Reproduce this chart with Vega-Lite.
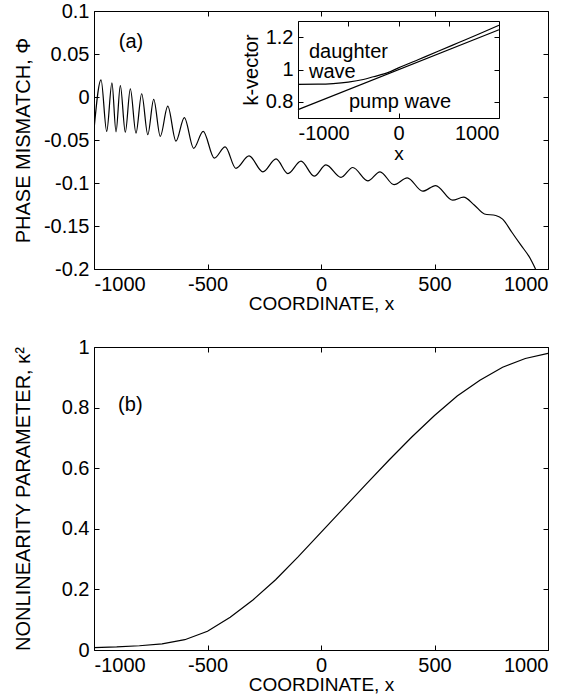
{
  "$schema": "https://vega.github.io/schema/vega-lite/v6.json",
  "background": "white",
  "padding": {"left": 12, "top": 0, "right": 0, "bottom": 0},
  "spacing": 22,
  "config": {
    "font": "Liberation Sans",
    "view": {"stroke": "black", "strokeWidth": 1},
    "axis": {
      "grid": false,
      "domain": false,
      "domainColor": "black",
      "tickColor": "black",
      "tickSize": -5,
      "labelColor": "black",
      "labelFont": "Liberation Sans",
      "labelFontSize": 20,
      "labelPadding": 10,
      "titleFont": "Liberation Sans",
      "titleFontSize": 19,
      "titleFontWeight": "normal",
      "titleColor": "black",
      "titlePadding": 0
    },
    "axisY": {"titleFontSize": 20}
  },
  "vconcat": [
    {
      "width": 454,
      "height": 258,
      "layer": [
        {
          "encoding": {
            "x": {"field": "x", "type": "quantitative", "scale": {"domain": [-1000, 1000], "nice": false, "zero": false},
              "axis": {"orient": "bottom", "title": "COORDINATE, x", "values": [-1000, -500, 0, 500, 1000], "labelExpr": "'' + datum.value"}},
            "y": {"field": "phi", "type": "quantitative", "scale": {"domain": [-0.2, 0.1], "nice": false, "zero": false},
              "axis": {"orient": "left", "title": "PHASE MISMATCH, Φ", "titlePadding": 10, "values": [-0.2, -0.15, -0.1, -0.05, 0, 0.05, 0.1], "labelExpr": "'' + datum.value"}}
          },
          "layer": [
            {
              "data": {"values": [
                {"x": -1000, "phi": -0.038}, {"x": -969, "phi": 0.020}, {"x": -944, "phi": -0.040}, {"x": -921, "phi": 0.0165},
                {"x": -903, "phi": -0.0405}, {"x": -884, "phi": 0.0133}, {"x": -862, "phi": -0.041}, {"x": -840, "phi": 0.0095},
                {"x": -815, "phi": -0.042}, {"x": -790, "phi": 0.0038}, {"x": -763, "phi": -0.0437}, {"x": -737, "phi": -0.0027},
                {"x": -708, "phi": -0.0457}, {"x": -675, "phi": -0.0107}, {"x": -639, "phi": -0.0514}, {"x": -602, "phi": -0.024},
                {"x": -561, "phi": -0.0597}, {"x": -519, "phi": -0.040}, {"x": -470, "phi": -0.0711}, {"x": -422, "phi": -0.058},
                {"x": -375, "phi": -0.083}, {"x": -317, "phi": -0.0685}, {"x": -256, "phi": -0.087}, {"x": -198, "phi": -0.072},
                {"x": -146, "phi": -0.089}, {"x": -88, "phi": -0.0745}, {"x": -30, "phi": -0.092}, {"x": 22, "phi": -0.079},
                {"x": 88, "phi": -0.0935}, {"x": 140, "phi": -0.082}, {"x": 206, "phi": -0.0975}, {"x": 260, "phi": -0.087},
                {"x": 322, "phi": -0.102}, {"x": 380, "phi": -0.094}, {"x": 448, "phi": -0.1095}, {"x": 505, "phi": -0.103},
                {"x": 580, "phi": -0.120}, {"x": 628, "phi": -0.1165}, {"x": 675, "phi": -0.1255}, {"x": 720, "phi": -0.136},
                {"x": 770, "phi": -0.1378}, {"x": 800, "phi": -0.142}, {"x": 840, "phi": -0.157}, {"x": 880, "phi": -0.172},
                {"x": 920, "phi": -0.187}, {"x": 945, "phi": -0.2}
              ]},
              "mark": {"type": "line", "color": "black", "strokeWidth": 1.2, "interpolate": "monotone", "clip": true}
            },
            {
              "data": {"values": [{"x": -837, "phi": 0.064, "label": "(a)"}]},
              "mark": {"type": "text", "fontSize": 20, "color": "black", "baseline": "middle"},
              "encoding": {"text": {"field": "label"}}
            }
          ]
        },
        {
          "data": {"values": [{"x": -1000, "phi": -0.2}, {"x": 1000, "phi": 0.1}]},
          "mark": {"type": "line", "opacity": 0},
          "encoding": {
            "x": {"field": "x", "type": "quantitative", "scale": {"domain": [-1000, 1000], "nice": false, "zero": false},
              "axis": {"orient": "top", "title": null, "labels": false, "values": [-1000, -500, 0, 500, 1000]}},
            "y": {"field": "phi", "type": "quantitative", "scale": {"domain": [-0.2, 0.1], "nice": false, "zero": false},
              "axis": {"orient": "right", "title": null, "labels": false, "values": [-0.2, -0.15, -0.1, -0.05, 0, 0.05, 0.1]}}
          }
        },
        {
          "encoding": {
            "x": {"field": "kx", "type": "quantitative", "scale": {"domain": [-1000, 1000], "range": [204, 405], "nice": false, "zero": false},
              "axis": {"orient": "bottom", "offset": -151, "title": "x", "titlePadding": 1, "domain": true, "values": [-1000, 0, 1000], "labelExpr": "'' + datum.value"}},
            "y": {"field": "k", "type": "quantitative", "scale": {"domain": [0.7, 1.3], "range": [107, 10], "nice": false, "zero": false},
              "axis": {"orient": "left", "offset": -204, "title": "k-vector", "titlePadding": 4, "domain": true, "values": [0.8, 1, 1.2], "labelExpr": "'' + datum.value"}}
          },
          "layer": [
            {
              "data": {"values": [
                {"series": "daughter", "kx": -1000, "k": 0.908}, {"series": "daughter", "kx": -800, "k": 0.909},
                {"series": "daughter", "kx": -650, "k": 0.913}, {"series": "daughter", "kx": -500, "k": 0.922},
                {"series": "daughter", "kx": -350, "k": 0.938}, {"series": "daughter", "kx": -250, "k": 0.955},
                {"series": "daughter", "kx": -100, "k": 0.982}, {"series": "daughter", "kx": 0, "k": 1.01},
                {"series": "daughter", "kx": 200, "k": 1.062}, {"series": "daughter", "kx": 400, "k": 1.114},
                {"series": "daughter", "kx": 600, "k": 1.167}, {"series": "daughter", "kx": 800, "k": 1.22},
                {"series": "daughter", "kx": 1000, "k": 1.274},
                {"series": "pump", "kx": -1000, "k": 0.752}, {"series": "pump", "kx": 1000, "k": 1.246}
              ]},
              "mark": {"type": "line", "color": "black", "strokeWidth": 1.2, "interpolate": "monotone"},
              "encoding": {"detail": {"field": "series"}}
            },
            {
              "data": {"values": [
                {"kx": -891, "k": 1.07, "label": "daughter"},
                {"kx": -891, "k": 0.945, "label": "wave"},
                {"kx": -493, "k": 0.762, "label": "pump wave"}
              ]},
              "mark": {"type": "text", "align": "left", "baseline": "alphabetic", "fontSize": 20, "color": "black"},
              "encoding": {"text": {"field": "label"}}
            }
          ]
        },
        {
          "data": {"values": [{"kx": -1000, "k": 0.7}, {"kx": 1000, "k": 1.3}]},
          "mark": {"type": "line", "opacity": 0},
          "encoding": {
            "x": {"field": "kx", "type": "quantitative", "scale": {"domain": [-1000, 1000], "range": [204, 405], "nice": false, "zero": false},
              "axis": {"orient": "top", "offset": -10, "title": null, "labels": false, "domain": true, "values": [-1000, -500, 0, 500, 1000]}},
            "y": {"field": "k", "type": "quantitative", "scale": {"domain": [0.7, 1.3], "range": [107, 10], "nice": false, "zero": false},
              "axis": {"orient": "right", "offset": -49, "title": null, "labels": false, "domain": true, "values": [0.8, 1, 1.2]}}
          }
        }
      ],
      "resolve": {"scale": {"x": "independent", "y": "independent"}, "axis": {"x": "independent", "y": "independent"}}
    },
    {
      "width": 454,
      "height": 303,
      "layer": [
        {
          "encoding": {
            "x": {"field": "x", "type": "quantitative", "scale": {"domain": [-1000, 1000], "nice": false, "zero": false},
              "axis": {"orient": "bottom", "title": "COORDINATE, x", "values": [-1000, -500, 0, 500, 1000], "labelExpr": "'' + datum.value"}},
            "y": {"field": "kappa", "type": "quantitative", "scale": {"domain": [0, 1], "nice": false, "zero": false},
              "axis": {"orient": "left", "title": "NONLINEARITY PARAMETER, κ²", "titlePadding": 28, "values": [0, 0.2, 0.4, 0.6, 0.8, 1], "labelExpr": "'' + datum.value"}}
          },
          "layer": [
            {
              "data": {"values": [
                {"x": -1000, "kappa": 0.008}, {"x": -900, "kappa": 0.010}, {"x": -800, "kappa": 0.014}, {"x": -700, "kappa": 0.020},
                {"x": -600, "kappa": 0.034}, {"x": -500, "kappa": 0.062}, {"x": -400, "kappa": 0.108}, {"x": -300, "kappa": 0.165},
                {"x": -200, "kappa": 0.232}, {"x": -100, "kappa": 0.308}, {"x": 0, "kappa": 0.388}, {"x": 100, "kappa": 0.468},
                {"x": 200, "kappa": 0.548}, {"x": 300, "kappa": 0.627}, {"x": 400, "kappa": 0.703}, {"x": 500, "kappa": 0.774},
                {"x": 600, "kappa": 0.838}, {"x": 700, "kappa": 0.89}, {"x": 800, "kappa": 0.933}, {"x": 900, "kappa": 0.962},
                {"x": 1000, "kappa": 0.979}
              ]},
              "mark": {"type": "line", "color": "black", "strokeWidth": 1.2}
            },
            {
              "data": {"values": [{"x": -840, "kappa": 0.81, "label": "(b)"}]},
              "mark": {"type": "text", "fontSize": 20, "color": "black", "baseline": "middle"},
              "encoding": {"text": {"field": "label"}}
            }
          ]
        },
        {
          "data": {"values": [{"x": -1000, "kappa": 0}, {"x": 1000, "kappa": 1}]},
          "mark": {"type": "line", "opacity": 0},
          "encoding": {
            "x": {"field": "x", "type": "quantitative", "scale": {"domain": [-1000, 1000], "nice": false, "zero": false},
              "axis": {"orient": "top", "title": null, "labels": false, "values": [-1000, -500, 0, 500, 1000]}},
            "y": {"field": "kappa", "type": "quantitative", "scale": {"domain": [0, 1], "nice": false, "zero": false},
              "axis": {"orient": "right", "title": null, "labels": false, "values": [0, 0.2, 0.4, 0.6, 0.8, 1]}}
          }
        }
      ],
      "resolve": {"scale": {"x": "independent", "y": "independent"}, "axis": {"x": "independent", "y": "independent"}}
    }
  ]
}
